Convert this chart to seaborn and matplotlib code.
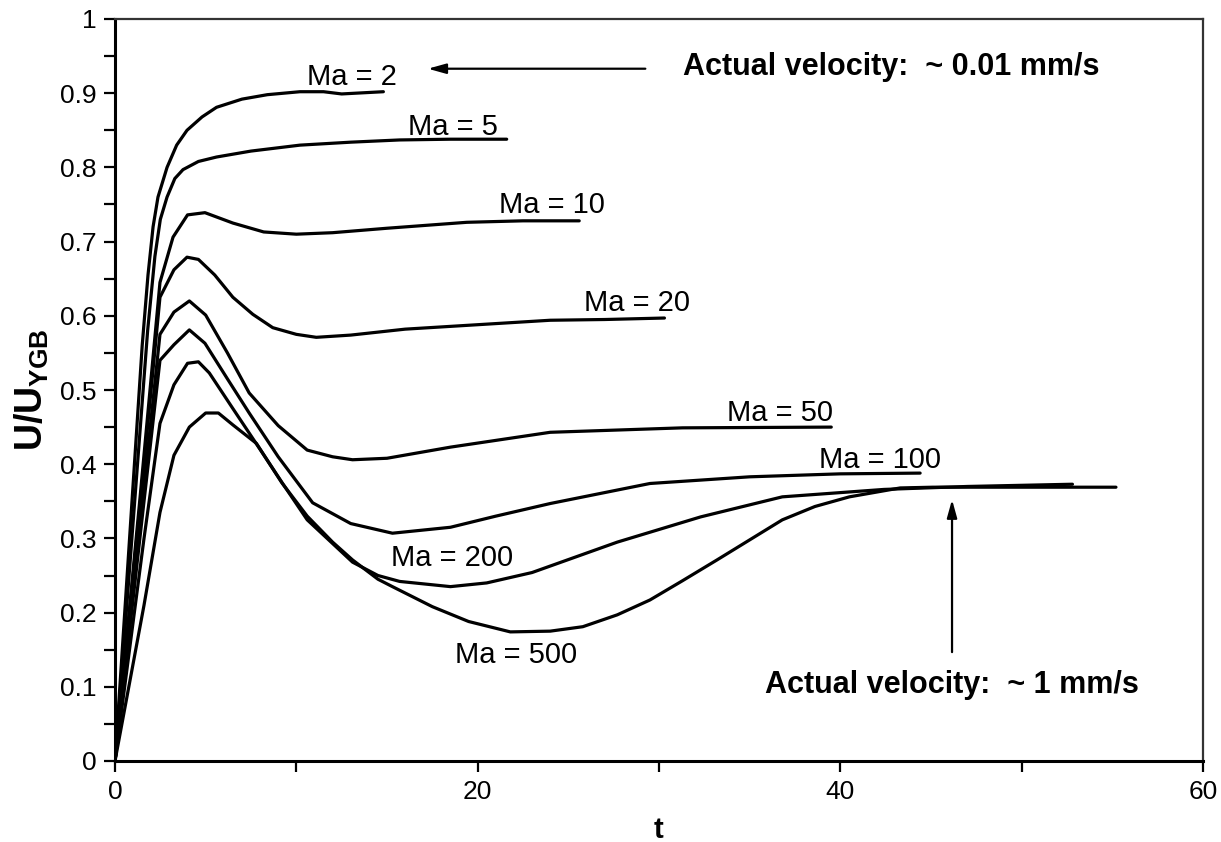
import numpy as np
import pandas as pd
import matplotlib
matplotlib.use("Agg")
import matplotlib.pyplot as plt
import seaborn as sns

# ---- data ----
t_ma2 = [0, 1.5, 1.82, 2.1, 2.37, 2.87, 3.4, 3.97, 4.8, 5.6, 7.0, 8.4, 10.2, 11.5, 12.5, 14.8]
u_ma2 = [0, 0.56, 0.655, 0.72, 0.76, 0.80, 0.83, 0.85, 0.868, 0.881, 0.892, 0.898, 0.902, 0.902, 0.899, 0.902]

t_ma5 = [0, 1.8, 2.2, 2.5, 2.87, 3.3, 3.75, 4.6, 5.6, 7.5, 10.2, 13, 15.7, 18.5, 21.6]
u_ma5 = [0, 0.58, 0.68, 0.73, 0.76, 0.785, 0.797, 0.808, 0.814, 0.822, 0.830, 0.834, 0.837, 0.838, 0.838]

t_ma10 = [0, 1.4, 2.48, 3.2, 4.0, 4.96, 6.5, 8.2, 10.0, 12, 15, 19.4, 22.5, 25.6]
u_ma10 = [0, 0.36, 0.645, 0.706, 0.736, 0.739, 0.725, 0.713, 0.710, 0.712, 0.718, 0.726, 0.728, 0.728]

t_ma20 = [0, 1.6, 2.48, 3.25, 3.97, 4.6, 5.5, 6.5, 7.6, 8.7, 10, 11.1, 13, 16, 20, 24, 27, 30.3]
u_ma20 = [0, 0.40, 0.625, 0.662, 0.679, 0.676, 0.655, 0.625, 0.602, 0.584, 0.575, 0.571, 0.574, 0.582, 0.588, 0.594, 0.595, 0.597]

t_ma50 = [0, 1.6, 2.48, 3.25, 4.1, 5.0, 6.2, 7.4, 9.0, 10.6, 12, 13.1, 15, 18.5, 24, 31.3, 39.5]
u_ma50 = [0, 0.37, 0.575, 0.605, 0.620, 0.601, 0.55, 0.496, 0.452, 0.419, 0.41, 0.406, 0.408, 0.423, 0.443, 0.449, 0.450]

t_ma100 = [0, 1.6, 2.48, 3.25, 4.1, 4.96, 6.2, 7.4, 9.0, 10.9, 13, 15.3, 18.5, 21, 24, 29.5, 35, 40, 44.4]
u_ma100 = [0, 0.35, 0.54, 0.561, 0.581, 0.563, 0.515, 0.469, 0.41, 0.348, 0.32, 0.307, 0.315, 0.33, 0.347, 0.374, 0.383, 0.387, 0.388]

t_ma200 = [0, 1.6, 2.48, 3.25, 4.0, 4.6, 5.2, 6.5, 8.0, 9.3, 10.6, 13.1, 14.5, 15.7, 18.5, 20.5, 23, 27.7, 32.3, 36.8, 42.4, 47, 52.8]
u_ma200 = [0, 0.30, 0.455, 0.507, 0.536, 0.538, 0.523, 0.475, 0.42, 0.372, 0.325, 0.268, 0.25, 0.242, 0.235, 0.24, 0.254, 0.295, 0.329, 0.356, 0.366, 0.37, 0.373]

t_ma500 = [0, 1.6, 2.48, 3.25, 4.1, 5.0, 5.7, 6.5, 7.8, 9.2, 10.6, 12, 13.1, 14.5, 15.3, 17.5, 19.5, 21.8, 24, 25.8, 27.7, 29.5, 31.3, 33.2, 35, 36.8, 38.6, 40.5, 43.3, 45.1, 50, 55.2]
u_ma500 = [0, 0.21, 0.335, 0.412, 0.450, 0.469, 0.469, 0.453, 0.428, 0.375, 0.33, 0.295, 0.271, 0.245, 0.235, 0.208, 0.188, 0.174, 0.175, 0.181, 0.197, 0.217, 0.243, 0.271, 0.298, 0.325, 0.343, 0.356, 0.368, 0.369, 0.369, 0.369]

ma_values = [2, 5, 10, 20, 50, 100, 200, 500]
series_t = [t_ma2, t_ma5, t_ma10, t_ma20, t_ma50, t_ma100, t_ma200, t_ma500]
series_u = [u_ma2, u_ma5, u_ma10, u_ma20, u_ma50, u_ma100, u_ma200, u_ma500]

# label anchor positions (data coords) for the curve labels
label_texts = ["Ma = 2", "Ma = 5", "Ma = 10", "Ma = 20", "Ma = 50", "Ma = 100", "Ma = 200", "Ma = 500"]
label_t = [13.07, 18.64, 24.1, 28.8, 36.7, 42.2, 18.6, 22.1]
label_u = [0.922, 0.854, 0.749, 0.617, 0.469, 0.406, 0.274, 0.143]

x_ticks = [0, 20, 40, 60]
y_ticks = [0, 0.1, 0.2, 0.3, 0.4, 0.5, 0.6, 0.7, 0.8, 0.9, 1]
y_tick_labels = ["0", "0.1", "0.2", "0.3", "0.4", "0.5", "0.6", "0.7", "0.8", "0.9", "1"]

rows = []
for ma, ts, us in zip(ma_values, series_t, series_u):
    for i, (tt, uu) in enumerate(zip(ts, us)):
        rows.append({"Ma": ma, "t": tt, "U": uu, "order": i})
df = pd.DataFrame(rows)

sns.set_theme(style="white")
plt.rcParams["font.family"] = ["Liberation Sans", "DejaVu Sans"]
plt.rcParams["text.color"] = "black"
plt.rcParams["axes.labelcolor"] = "black"
plt.rcParams["mathtext.fontset"] = "custom"
plt.rcParams["mathtext.bf"] = "Liberation Sans:bold"
plt.rcParams["mathtext.rm"] = "Liberation Sans"

fig = plt.figure(figsize=(12.21, 8.42), dpi=100)
ax = fig.add_axes([115 / 1221, 1 - 761 / 842, (1203 - 115) / 1221, (761 - 19) / 842])

sns.lineplot(data=df, x="t", y="U", hue="Ma", units="Ma", estimator=None, sort=False,
             palette=["black"] * len(ma_values), legend=False, linewidth=2.3, ax=ax)

ax.set_xlim(0, 60)
ax.set_ylim(0, 1)
ax.set_xticks(x_ticks)
ax.set_xticks([10, 30, 50], minor=True)
ax.set_yticks(y_ticks)
ax.set_yticklabels(y_tick_labels)
ax.set_yticks(np.arange(0.05, 1.0, 0.1), minor=True)
ax.tick_params(axis="both", which="both", direction="out", length=8, width=1.6,
               color="black", labelsize=19, labelcolor="black", left=True, bottom=True)
ax.tick_params(axis="x", which="major", pad=6)
ax.tick_params(axis="y", which="major", pad=5)
for s in ["left", "bottom"]:
    ax.spines[s].set_linewidth(2.2)
    ax.spines[s].set_color("black")
for s in ["top", "right"]:
    ax.spines[s].set_linewidth(1.6)
    ax.spines[s].set_color("#333333")

ax.set_xlabel("t", fontsize=21, fontweight="bold", labelpad=8, color="black")
ax.set_ylabel(r"$\mathbf{U/U_{YGB}}$", fontsize=27, labelpad=7, color="black")

for txt, lt, lu in zip(label_texts, label_t, label_u):
    ax.text(lt, lu, txt, fontsize=21, ha="center", va="center", color="black")

ax.text(31.3, 0.935, "Actual velocity:  ~ 0.01 mm/s", fontsize=22, fontweight="bold",
        ha="left", va="center", color="black")
ax.annotate("", xy=(17.1, 0.933), xytext=(29.4, 0.933),
            arrowprops=dict(arrowstyle="-|>,head_length=0.9,head_width=0.25", color="black", lw=1.6))
ax.text(35.85, 0.102, "Actual velocity:  ~ 1 mm/s", fontsize=22, fontweight="bold",
        ha="left", va="center", color="black")
ax.annotate("", xy=(46.16, 0.356), xytext=(46.16, 0.143),
            arrowprops=dict(arrowstyle="-|>,head_length=0.9,head_width=0.25", color="black", lw=1.6))

fig.savefig("out.png", dpi=100)
